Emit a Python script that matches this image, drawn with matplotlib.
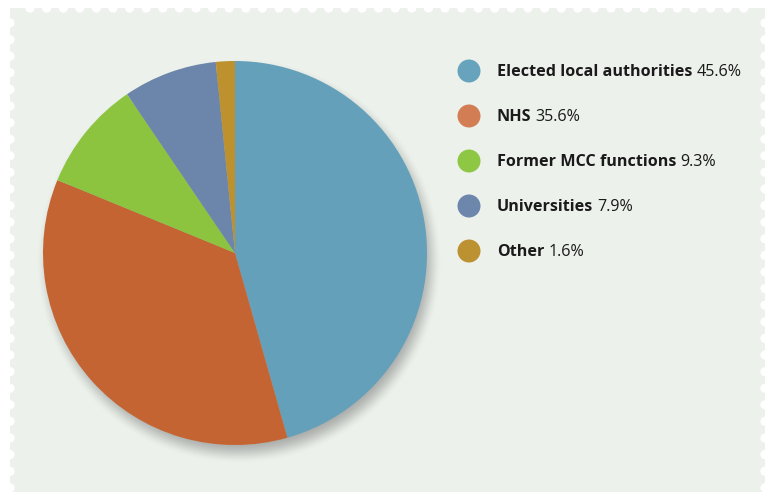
import numpy as np
import matplotlib.pyplot as plt
from matplotlib.patches import Rectangle, Circle

labels = ["Elected local authorities", "NHS", "Former MCC functions", "Universities", "Other"]
shares = [45.6, 35.6, 9.3, 7.9, 1.6]
pie_colors = ["#64A0BA", "#C56433", "#8CC440", "#6C85AA", "#BC912E"]
key_colors = ["#67A3BD", "#D27D53", "#8DC743", "#6D86AB", "#BB9132"]

W, H = 773, 492
panel_color = "#ECF1EB"

fig = plt.figure(figsize=(W / 100, H / 100), dpi=100)
fig.patch.set_facecolor("white")
ax = fig.add_axes([0, 0, 1, 1])

# stamp-like panel with scalloped edges
left, right, top, bottom = 10, 765, H - 8, -20
ax.add_patch(Rectangle((left, bottom), right - left, top - bottom,
                       facecolor=panel_color, edgecolor="none", zorder=0, clip_on=False))
step, r_hole = 16.6, 4.6
for x in np.arange(30, right - 5, step):
    ax.add_patch(Circle((x, top), r_hole, facecolor="white", edgecolor="none", zorder=1))
for y in np.arange(top - 15, 0, -step):
    ax.add_patch(Circle((left, y), r_hole, facecolor="white", edgecolor="none", zorder=1))
    ax.add_patch(Circle((right, y), r_hole, facecolor="white", edgecolor="none", zorder=1))

# pie geometry
cx, cy, radius = 235, H - 253, 192

# soft drop shadow, shifted a little down and right
yy, xx = np.mgrid[0:H, 0:W]
d = np.hypot(xx + 0.5 - (cx + 4), (H - yy - 0.5) - (cy - 8))
blur = 11.0
t = np.clip((radius + blur - d) / (2 * blur), 0, 1)
alpha = 0.45 * t * t * (3 - 2 * t)
shadow = np.zeros((H, W, 4))
shadow[..., :3] = 0.35
shadow[..., 3] = alpha
ax.imshow(shadow, extent=(0, W, 0, H), origin="upper", zorder=2, interpolation="bilinear")

ax.pie(shares, colors=pie_colors, startangle=90, counterclock=False,
       center=(cx, cy), radius=radius, frame=True,
       wedgeprops=dict(linewidth=0, zorder=3))
ax.set_xlim(0, W)
ax.set_ylim(0, H)
ax.set_aspect("auto")
ax.axis("off")

# key: bold name followed by the share on the same baseline
font = "Open Sans"
size = 11.6
row_y = [71, 116, 161, 206, 251]
names = []
for lab, col, y in zip(labels, key_colors, row_y):
    ax.add_patch(Circle((469, H - y), 11.5, facecolor=col, edgecolor="none", zorder=4))
    names.append(ax.text(497, H - y - 5, lab, fontsize=size, fontweight="bold", family=font,
                         color="#1A1A1A", va="baseline", ha="left", zorder=4))

fig.canvas.draw()
renderer = fig.canvas.get_renderer()
inv = ax.transData.inverted()
for name, val, y in zip(names, shares, row_y):
    x_end = inv.transform(name.get_window_extent(renderer).get_points())[1, 0]
    ax.text(x_end + 4, H - y - 5, f"{val}%", fontsize=size, family=font,
            color="#1A1A1A", va="baseline", ha="left", zorder=4)

fig.savefig("out.png", dpi=100, facecolor="white")
